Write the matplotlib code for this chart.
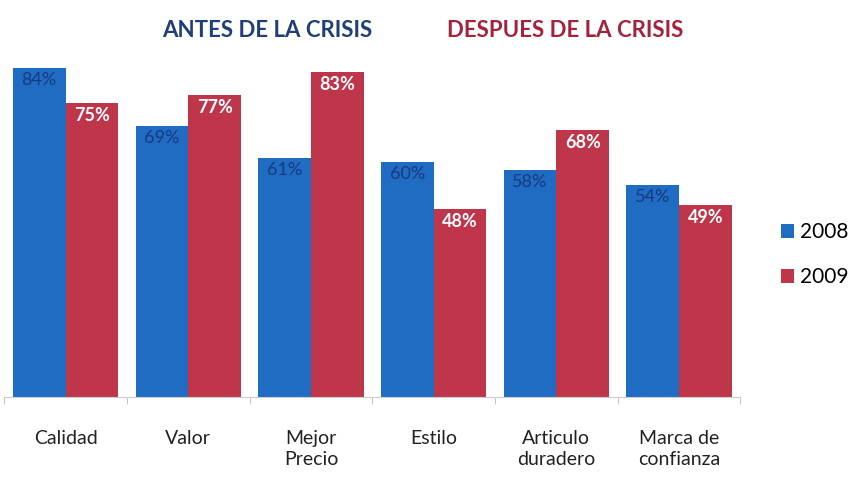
import numpy as np
import matplotlib.pyplot as plt

categorias = ["Calidad", "Valor", "Mejor\nPrecio", "Estilo", "Articulo\nduradero", "Marca de\nconfianza"]
v2008 = [84, 69, 61, 60, 58, 54]
v2009 = [75, 77, 83, 48, 68, 49]
series = ["2008", "2009"]

azul = "#1f6cc2"
rojo = "#bf3549"

plt.rcParams['font.family'] = ['Lato', 'DejaVu Sans']

fig = plt.figure(figsize=(8.56, 4.8), dpi=100)
ax = fig.add_axes([0.005, 0.173, 0.86, 0.735])

x = np.arange(len(categorias))
w = 0.43
b1 = ax.bar(x - w/2, v2008, w, color=azul, label=series[0])
b2 = ax.bar(x + w/2, v2009, w, color=rojo, label=series[1])

# etiquetas de valor dentro de cada barra
for rect, v in zip(b1, v2008):
    ax.text(rect.get_x() + rect.get_width()/2, v - 1.0, f"{v}%", ha="center", va="top",
            fontsize=13, color="#183a80")
for rect, v in zip(b2, v2009):
    ax.text(rect.get_x() + rect.get_width()/2, v - 1.0, f"{v}%", ha="center", va="top",
            fontsize=13, color="white", fontweight="bold")

ax.set_xlim(-0.5, len(categorias) - 0.5)
ax.set_ylim(0, 90)
ax.set_yticks([])
ax.set_xticks(np.arange(len(categorias) + 1) - 0.5, minor=True)
ax.set_xticks(x)
ax.set_xticklabels(categorias, fontsize=14, color="#222222", linespacing=1.25)
ax.tick_params(axis="x", which="major", length=0, pad=24)
ax.tick_params(axis="x", which="minor", length=5, color="#bbbbbb")
for s in ["top", "right", "left"]:
    ax.spines[s].set_visible(False)
ax.spines["bottom"].set_color("#cccccc")

fig.text(0.312, 0.936, "ANTES DE LA CRISIS", ha="center", va="center",
         fontsize=16, fontweight="bold", color="#1f3f78")
fig.text(0.66, 0.936, "DESPUES DE LA CRISIS", ha="center", va="center",
         fontsize=16, fontweight="bold", color="#a3223c")

fig.legend(handles=[b1, b2], labels=series, loc="center left", bbox_to_anchor=(0.89, 0.47),
           frameon=False, fontsize=15, handlelength=0.65, handleheight=0.65,
           handletextpad=0.3, labelspacing=1.2)

fig.savefig("out.png", dpi=100)
